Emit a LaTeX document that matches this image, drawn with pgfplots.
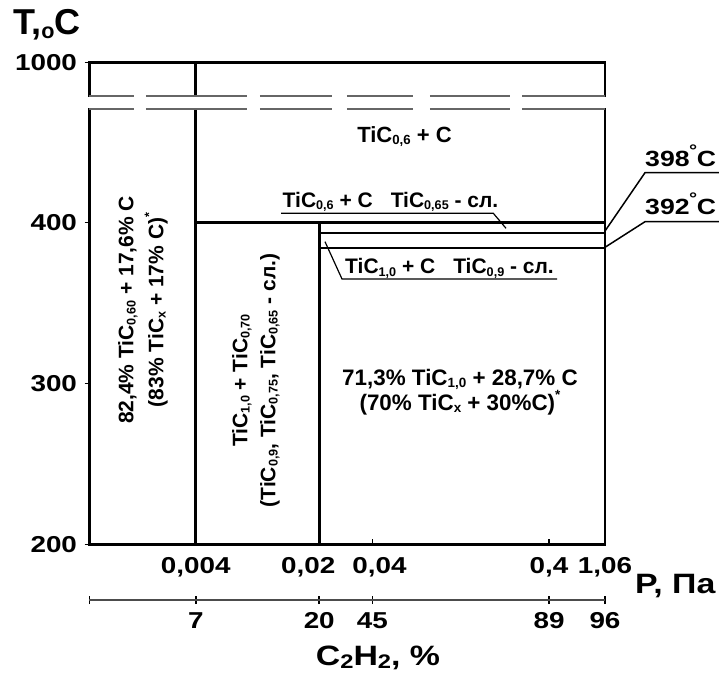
\documentclass[border=0pt]{standalone}
\usepackage{fontspec}
\setmainfont{Liberation Sans}
\newfontfamily\tickfont{Liberation Sans}[FakeStretch=1.21]
\usepackage{graphicx}
\usepackage{pgfplots}
\pgfplotsset{compat=1.18}
\newcommand\sub[1]{\raisebox{-0.2ex}{\scalebox{0.6}{#1}}}
\newcommand\subb[1]{\raisebox{-0.2ex}{\scalebox{0.7}{#1}}}
\newcommand\sups[1]{\raisebox{0.9ex}{\scalebox{0.6}{#1}}}
\begin{document}
\begin{tikzpicture}
\path[use as bounding box] (0pt,0pt) rectangle (719pt,675pt);
\begin{axis}[
  at={(89.5pt,130.7pt)}, anchor=south west,
  scale only axis, width=515.5pt, height=481.6pt,
  xmode=log, xmin=0.001, xmax=0.83,
  ymin=200, ymax=499.3,
  axis line style={draw=none},
  clip=false,
  xtick={0.004,0.02,0.04,0.4,0.83},
  xticklabels={{0,004},{0,02\hspace*{22pt}},{\hspace*{14pt}0,04},{0,4},{1,06}},
  minor xtick={}, minor ytick={},
  ytick={200,300,400,499.3},
  yticklabels={200,300,400,1000},
  tick pos=left,
  xtick align=inside, ytick align=outside,
  major tick length=5pt,
  tick style={black, line width=1.5pt},
  ticklabel style={font=\tickfont\bfseries\fontsize{23pt}{23pt}\selectfont},
  xticklabel style={yshift=-10pt},
  yticklabel style={xshift=-4pt},
  /pgf/number format/assume math mode=true,
  frame/.style={black, line width=2.7pt, line cap=rect, no marks, forget plot},
  sub/.style={black, line width=2.2pt, no marks, forget plot},
  brk/.style={black!60, line width=2pt, no marks, forget plot, line cap=butt,
    dash pattern=on 44.5pt off 12pt on 101pt off 13pt on 72pt off 15pt on 66pt off 17pt on 80pt off 12pt on 90pt off 10pt},
]
% frame
\addplot[frame] coordinates {(0.001,499.3) (0.83,499.3)};
\addplot[frame] coordinates {(0.001,200) (0.83,200)};
\addplot[frame] coordinates {(0.001,499.3) (0.001,478.8)};
\addplot[frame] coordinates {(0.001,470.4) (0.001,200)};
\addplot[frame] coordinates {(0.83,499.3) (0.83,478.8)};
\addplot[frame] coordinates {(0.83,470.4) (0.83,200)};
% phase boundaries
\addplot[frame] coordinates {(0.004,499.3) (0.004,478.8)};
\addplot[frame] coordinates {(0.004,470.4) (0.004,200)};
\addplot[frame] coordinates {(0.02,400) (0.02,200)};
\addplot[frame] coordinates {(0.004,400) (0.83,400)};
\addplot[sub] coordinates {(0.02,393.7) (0.83,393.7)};
\addplot[sub] coordinates {(0.02,384) (0.83,384)};
% axis break
\addplot[brk] coordinates {(0.001,478.8) (0.83,478.8)};
\addplot[brk] coordinates {(0.001,470.4) (0.83,470.4)};
\end{axis}
\begin{axis}[
  at={(89.5pt,75pt)}, anchor=south west,
  scale only axis, width=515.5pt, height=20pt,
  xmode=log, xmin=0.001, xmax=0.83, ymin=0, ymax=1,
  hide y axis, axis x line*=bottom,
  x axis line style={black!70, line width=2pt},
  xtick={0.001,0.004,0.02,0.04,0.4,0.83},
  xticklabels={{},7,20,45,89,96},
  minor xtick={},
  xtick align=center, major tick length=8pt,
  tick style={black, line width=1.5pt},
  ticklabel style={font=\tickfont\bfseries\fontsize{23pt}{23pt}\selectfont},
  xticklabel style={yshift=-5pt},
  /pgf/number format/assume math mode=true,
]
\end{axis}
% axis titles
\node[font=\bfseries\fontsize{36pt}{36pt}\selectfont] at (47pt,650pt) {T,\sub{o}C};
\node[anchor=west, inner sep=0pt, font=\tickfont\bfseries\fontsize{28pt}{28pt}\selectfont] at (635pt,89pt) {P, Па};
\node[font=\tickfont\bfseries\fontsize{28pt}{28pt}\selectfont] at (378pt,17.5pt) {C\subb{2}H\subb{2}, \%};
% temperature callouts
\node[anchor=base west, inner sep=0pt, font=\tickfont\bfseries\fontsize{22pt}{22pt}\selectfont] at (645pt,508.3pt) {398\kern-0.5pt\sups{\fontsize{28pt}{28pt}\selectfont°}\kern-0.5ptC};
\node[anchor=base west, inner sep=0pt, font=\tickfont\bfseries\fontsize{22pt}{22pt}\selectfont] at (645pt,460pt) {392\kern-0.5pt\sups{\fontsize{28pt}{28pt}\selectfont°}\kern-0.5ptC};
\draw[line width=1.5pt] (605pt,444pt) -- (645pt,502.3pt) -- (719pt,502.3pt);
\draw[line width=1.5pt] (605pt,427.7pt) -- (645pt,453.3pt) -- (719pt,453.3pt);
% region labels
\begin{scope}[every node/.style={font=\bfseries\fontsize{21pt}{24pt}\selectfont, align=center}]
\node[font=\bfseries\fontsize{22pt}{24pt}\selectfont] at (404.5pt,538.3pt) {TiC\sub{0,6} + C};
\node at (390.5pt,473.3pt) {TiC\sub{0,6} + C\hspace{18pt}TiC\sub{0,65} - сл.};
\draw[line width=1.2pt] (281pt,461.7pt) -- (493.3pt,461.7pt) -- (506pt,446.7pt);
\node at (449.5pt,406.7pt) {TiC\sub{1,0} + C\hspace{18pt}TiC\sub{0,9} - сл.};
\draw[line width=1.2pt] (557pt,396pt) -- (342pt,396pt) -- (325pt,433.3pt);
\node[rotate=90, font=\bfseries\fontsize{21pt}{30pt}\selectfont] at (143pt,365pt) {82,4\% TiC\sub{0,60} + 17,6\% C\\(83\% TiC\sub{x} + 17\% C)\sups{*}};
\node[rotate=90, font=\bfseries\fontsize{21pt}{28pt}\selectfont] at (256pt,294.5pt) {TiC\sub{1,0} + TiC\sub{0,70}\\(TiC\sub{0,9}, TiC\sub{0,75}, TiC\sub{0,65} - сл.)};
\node[font=\bfseries\fontsize{22.4pt}{24pt}\selectfont] at (460pt,283pt) {71,3\% TiC\sub{1,0} + 28,7\% C\\(70\% TiC\sub{x} + 30\%C)\sups{*}};
\end{scope}
\end{tikzpicture}
\end{document}
